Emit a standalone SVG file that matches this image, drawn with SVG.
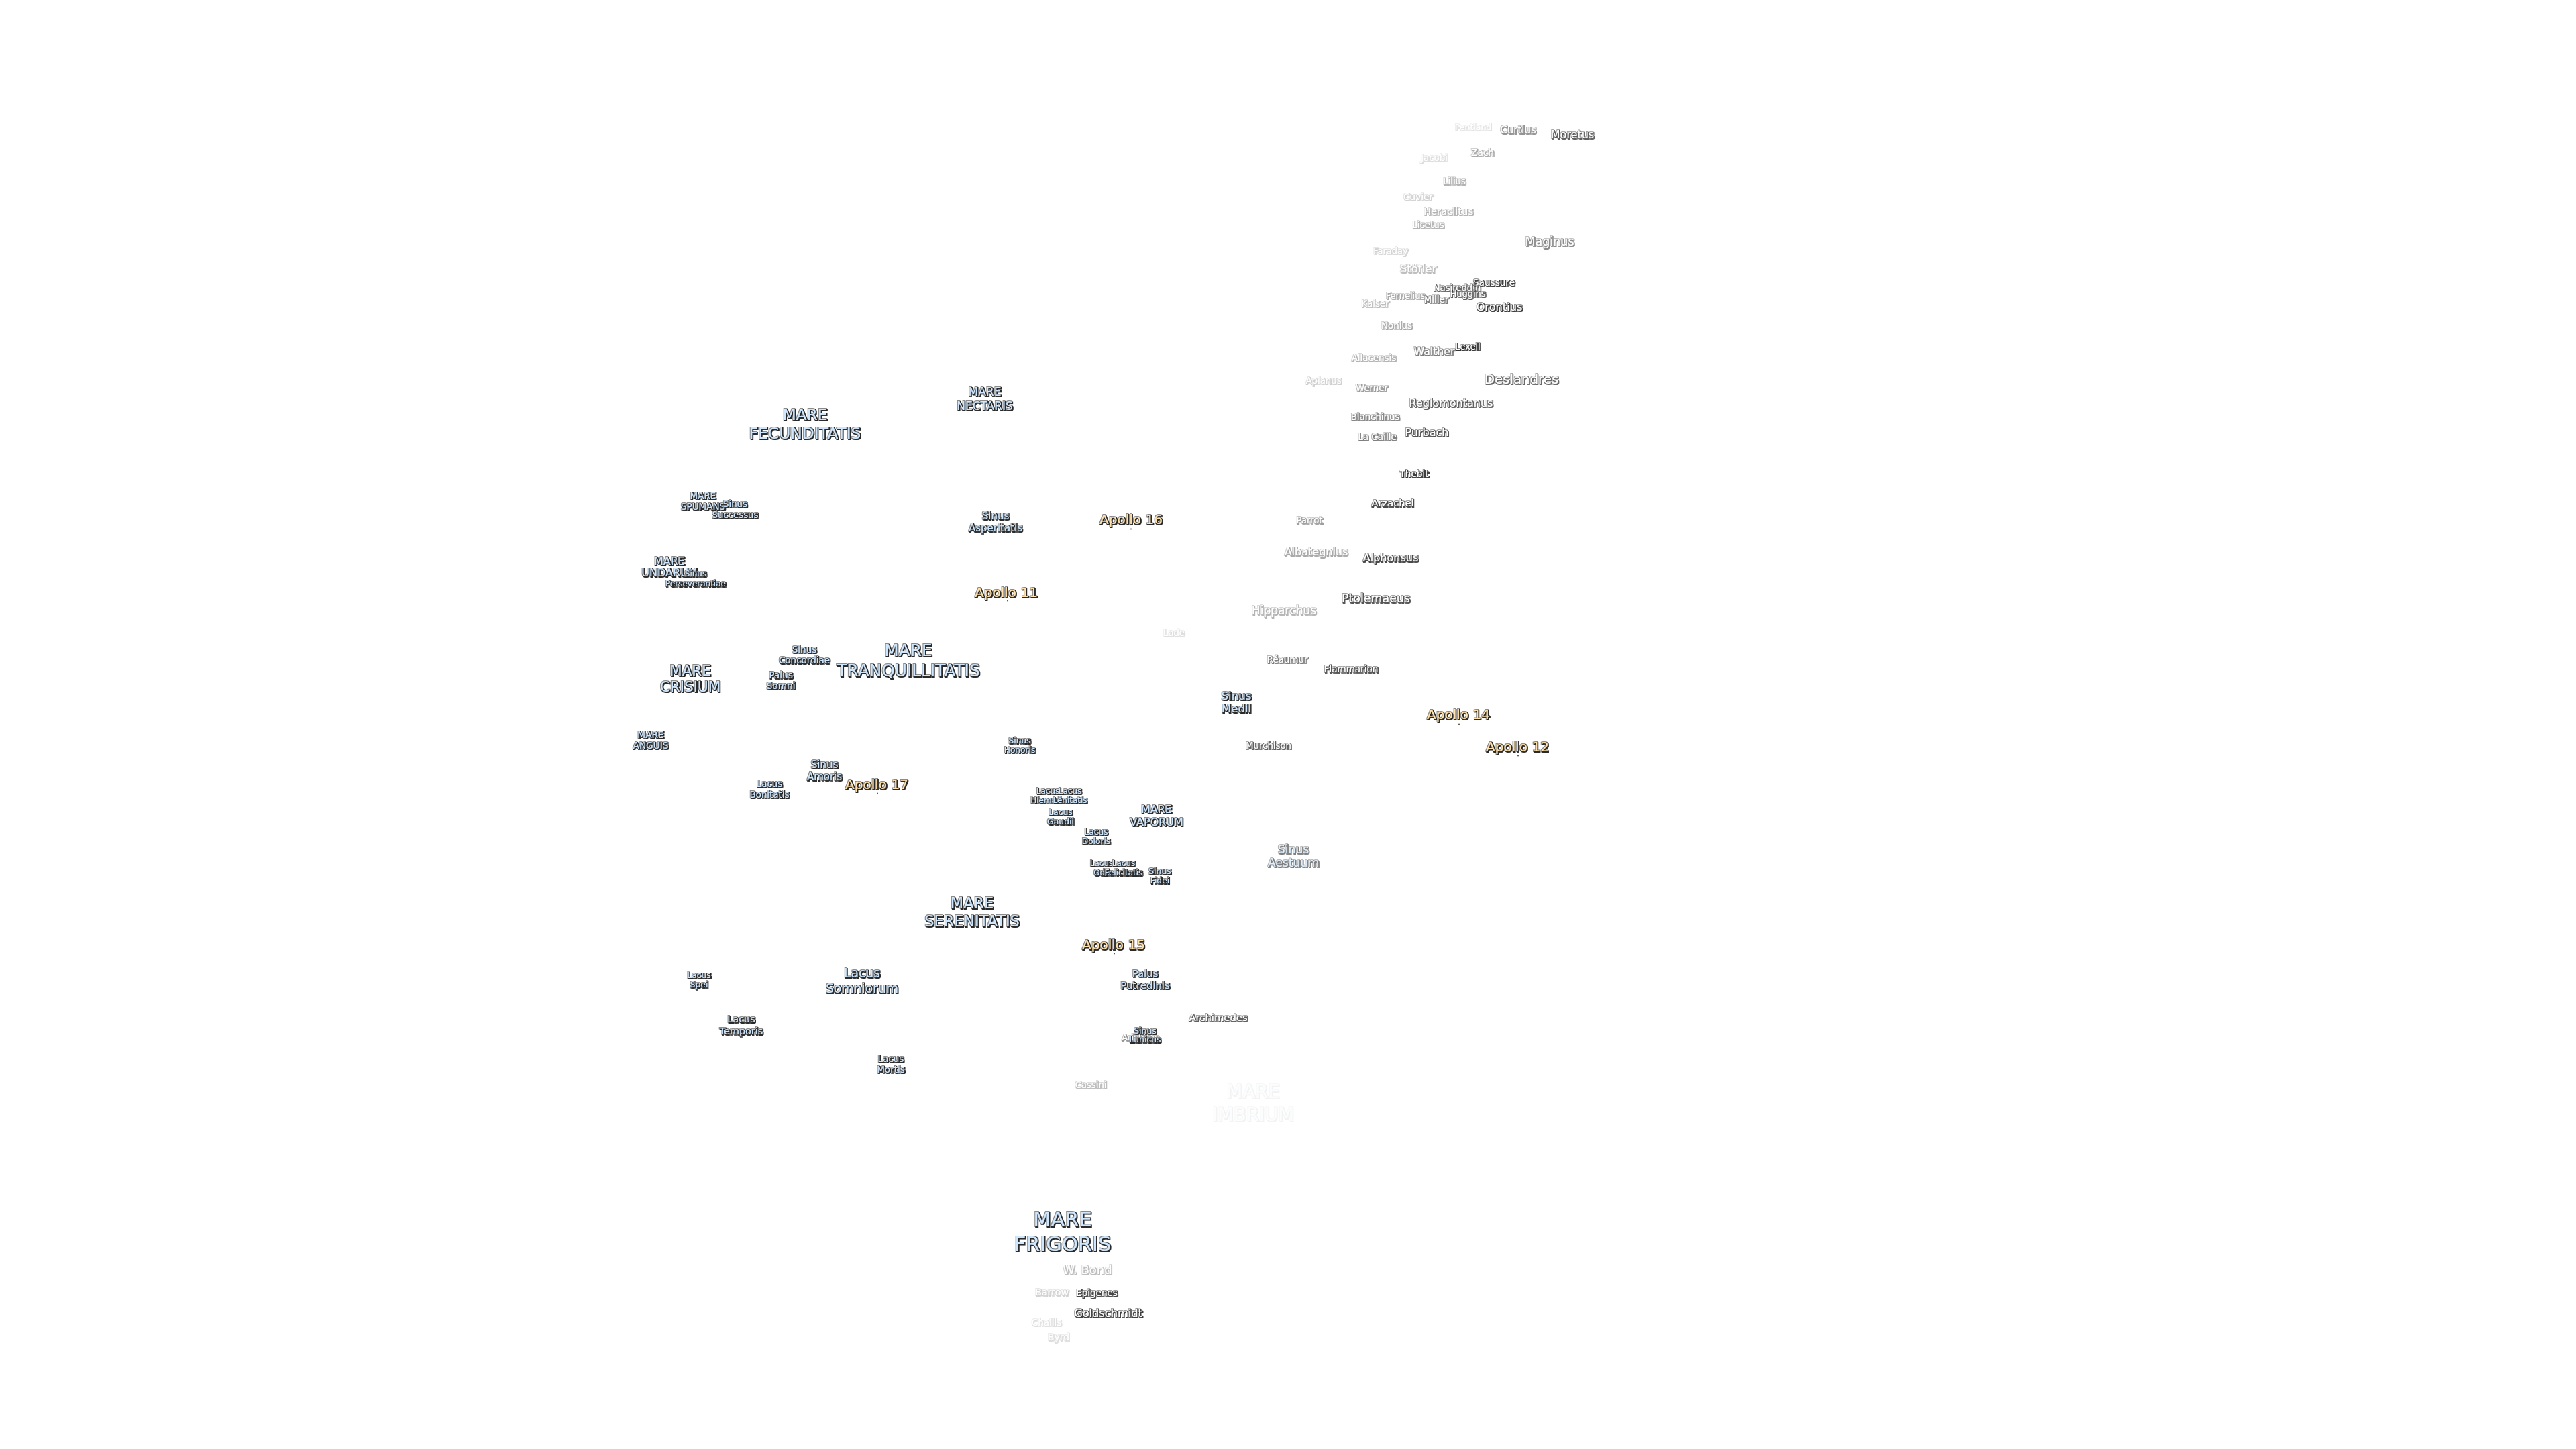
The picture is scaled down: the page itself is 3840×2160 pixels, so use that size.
<svg xmlns="http://www.w3.org/2000/svg" width="3840" height="2160" viewBox="0 0 3840 2160">
<style>
text{font-family:"DejaVu Sans","Liberation Sans",sans-serif;text-anchor:middle;filter:url(#halo)}
.m{fill:#cfe6fc}
.c{fill:#fff}
.a{fill:#ffe2ae}
.d{fill:#5a4a30}
</style>
<defs>
<filter id="halo" x="-15%" y="-25%" width="130%" height="150%">
<feMorphology in="SourceAlpha" operator="dilate" radius=".8" result="fat"/>
<feGaussianBlur in="fat" stdDeviation=".7" result="g"/>
<feFlood flood-color="#8a8a8a"/>
<feComposite in2="g" operator="in" result="glow"/>
<feGaussianBlur in="fat" stdDeviation=".5" result="b"/>
<feOffset in="b" dx="1.2" dy="1.3" result="o"/>
<feFlood flood-color="#2a2a2a"/>
<feComposite in2="o" operator="in" result="s"/>
<feGaussianBlur in="SourceGraphic" stdDeviation=".3" result="t"/>
<feMerge><feMergeNode in="glow"/><feMergeNode in="s"/><feMergeNode in="t"/></feMerge>
</filter>
</defs>
<g transform="translate(0,-1.5)">
<g id="craters">
<g opacity=".12"><text class="c" x="2196" y="195" font-size="12.5">Pentland</text></g>
<g opacity=".5"><text class="c" x="2263" y="200" font-size="15">Curtius</text></g>
<g opacity=".75"><text class="c" x="2344" y="207" font-size="16">Moretus</text></g>
<g opacity=".4"><text class="c" x="2210" y="233" font-size="13.7">Zach</text></g>
<g opacity=".15"><text class="c" x="2138" y="241" font-size="13.4">Jacobi</text></g>
<g opacity=".35"><text class="c" x="2168" y="276" font-size="13.2">Lilius</text></g>
<g opacity=".2"><text class="c" x="2114" y="299" font-size="13.7">Cuvier</text></g>
<g opacity=".35"><text class="c" x="2159" y="321" font-size="14.7">Heraclitus</text></g>
<g opacity=".35"><text class="c" x="2129" y="341" font-size="13.3">Licetus</text></g>
<g opacity=".55"><text class="c" x="2310" y="367" font-size="17.5">Maginus</text></g>
<g opacity=".2"><text class="c" x="2073" y="379" font-size="13">Faraday</text></g>
<g opacity=".3"><text class="c" x="2114" y="407" font-size="16.5">Stöfler</text></g>
<g opacity=".9"><text class="c" x="2227" y="427" font-size="13.6">Saussure</text></g>
<g opacity=".7"><text class="c" x="2172" y="435" font-size="13.2">Nasireddin</text></g>
<g opacity=".75"><text class="c" x="2188" y="443" font-size="13">Huggins</text></g>
<g opacity=".4"><text class="c" x="2095" y="446" font-size="13">Fernelius</text></g>
<g opacity=".6"><text class="c" x="2141" y="452" font-size="13.5">Miller</text></g>
<g opacity=".3"><text class="c" x="2050" y="458" font-size="13.3">Kaiser</text></g>
<g opacity=".9"><text class="c" x="2235" y="464" font-size="16.2">Orontius</text></g>
<g opacity=".4"><text class="c" x="2082" y="491" font-size="13.4">Nonius</text></g>
<g opacity=".95"><text class="c" x="2188" y="522" font-size="13">Lexell</text></g>
<g opacity=".6"><text class="c" x="2138" y="530" font-size="15.7">Walther</text></g>
<g opacity=".35"><text class="c" x="2048" y="539" font-size="13.4">Allacensis</text></g>
<g opacity=".22"><text class="c" x="1973" y="573" font-size="13.3">Aplanus</text></g>
<g opacity=".45"><text class="c" x="2045" y="584" font-size="13.3">Werner</text></g>
<g opacity=".7"><text class="c" x="2268" y="573" font-size="19.8">Deslandres</text></g>
<g opacity=".75"><text class="c" x="2163" y="607" font-size="16">Regiomontanus</text></g>
<g opacity=".55"><text class="c" x="2050" y="627" font-size="13.3">Blanchinus</text></g>
<g opacity=".8"><text class="c" x="2127" y="651" font-size="16">Purbach</text></g>
<g opacity=".6"><text class="c" x="2053" y="657" font-size="13.6">La Caille</text></g>
<g opacity=".9"><text class="c" x="2108" y="712" font-size="13.6">Thebit</text></g>
<g opacity=".85"><text class="c" x="2076" y="756" font-size="14.7">Arzachel</text></g>
<g opacity=".45"><text class="c" x="1952" y="781" font-size="13.2">Parrot</text></g>
<g opacity=".4"><text class="c" x="1962" y="829" font-size="16">Albategnius</text></g>
<g opacity=".85"><text class="c" x="2073" y="838" font-size="16">Alphonsus</text></g>
<g opacity=".8"><text class="c" x="2051" y="899" font-size="17.4">Ptolemaeus</text></g>
<g opacity=".35"><text class="c" x="1914" y="917" font-size="17.1">Hipparchus</text></g>
<g opacity=".15"><text class="c" x="1750" y="949" font-size="13.2">Lade</text></g>
<g opacity=".6"><text class="c" x="1919" y="989" font-size="13.5">Réaumur</text></g>
<g opacity=".8"><text class="c" x="2014" y="1003" font-size="13.5">Flammarion</text></g>
<g opacity=".75"><text class="c" x="1891" y="1117" font-size="13.3">Murchison</text></g>
<g opacity=".75"><text class="c" x="1816" y="1523" font-size="14.8">Archimedes</text></g>
<g opacity=".5"><text class="c" x="1700" y="1552" font-size="13">Aristillus</text></g>
<g opacity=".3"><text class="c" x="1626" y="1623" font-size="13.3">Cassini</text></g>
<g opacity=".3"><text class="c" x="1621" y="1900" font-size="18">W. Bond</text></g>
<g opacity=".2"><text class="c" x="1568" y="1932" font-size="14.3">Barrow</text></g>
<g opacity=".85"><text class="c" x="1635" y="1933" font-size="13.5">Epigenes</text></g>
<g opacity=".9"><text class="c" x="1652" y="1964" font-size="16.2">Goldschmidt</text></g>
<g opacity=".15"><text class="c" x="1560" y="1977" font-size="13.5">Challis</text></g>
<g opacity=".15"><text class="c" x="1578" y="1999" font-size="14">Byrd</text></g>
</g>
<g id="maria">
<text class="m" font-size="23.4"><tspan x="1200" y="627">MARE</tspan><tspan x="1200" y="655">FECUNDITATIS</tspan></text>
<text class="m" font-size="17"><tspan x="1468" y="591">MARE</tspan><tspan x="1468" y="612">NECTARIS</tspan></text>
<text class="m" font-size="13.5"><tspan x="1048" y="745">MARE</tspan><tspan x="1048" y="761">SPUMANS</tspan></text>
<text class="m" font-size="13.3"><tspan x="1096" y="757">Sinus</tspan><tspan x="1096" y="773">Successus</tspan></text>
<text class="m" font-size="15"><tspan x="1484" y="775">Sinus</tspan><tspan x="1484" y="793">Asperitatis</tspan></text>
<text class="m" font-size="16"><tspan x="998" y="843">MARE</tspan><tspan x="998" y="860">UNDARUM</tspan></text>
<text class="m" font-size="12"><tspan x="1037" y="860">Sinus</tspan><tspan x="1037" y="875">Perseverantiae</tspan></text>
<text class="m" font-size="21.5"><tspan x="1029" y="1008">MARE</tspan><tspan x="1029" y="1032">CRISIUM</tspan></text>
<text class="m" font-size="13.5"><tspan x="1199" y="974">Sinus</tspan><tspan x="1199" y="990">Concordiae</tspan></text>
<text class="m" font-size="13.7"><tspan x="1164" y="1012">Palus</tspan><tspan x="1164" y="1028">Somni</tspan></text>
<text class="m" font-size="24.8"><tspan x="1354" y="979">MARE</tspan><tspan x="1354" y="1009">TRANQUILLITATIS</tspan></text>
<text class="m" font-size="13.7"><tspan x="970" y="1101">MARE</tspan><tspan x="970" y="1117">ANGUIS</tspan></text>
<text class="m" font-size="15"><tspan x="1229" y="1146">Sinus</tspan><tspan x="1229" y="1164">Amoris</tspan></text>
<text class="m" font-size="13.4"><tspan x="1147" y="1174">Lacus</tspan><tspan x="1147" y="1190">Bonitatis</tspan></text>
<text class="m" font-size="12.2"><tspan x="1520" y="1109">Sinus</tspan><tspan x="1520" y="1123">Honoris</tspan></text>
<text class="m" font-size="12"><tspan x="1562" y="1184">Lacus</tspan><tspan x="1562" y="1198">Hiemalis</tspan></text>
<text class="m" font-size="12"><tspan x="1595" y="1184">Lacus</tspan><tspan x="1595" y="1198">Lenitatis</tspan></text>
<text class="m" font-size="12.4"><tspan x="1581" y="1216">Lacus</tspan><tspan x="1581" y="1230">Gaudii</tspan></text>
<text class="m" font-size="12.2"><tspan x="1634" y="1245">Lacus</tspan><tspan x="1634" y="1259">Doloris</tspan></text>
<text class="m" font-size="16"><tspan x="1724" y="1213">MARE</tspan><tspan x="1724" y="1232">VAPORUM</tspan></text>
<text class="m" font-size="12"><tspan x="1642" y="1292">Lacus</tspan><tspan x="1642" y="1306">Odii</tspan></text>
<text class="m" font-size="12"><tspan x="1675" y="1292">Lacus</tspan><tspan x="1675" y="1306">Felicitatis</tspan></text>
<text class="m" font-size="12.4"><tspan x="1729" y="1304">Sinus</tspan><tspan x="1729" y="1318">Fidei</tspan></text>
<text class="m" font-size="16.6"><tspan x="1843" y="1044">Sinus</tspan><tspan x="1843" y="1063">Medii</tspan></text>
<text class="m" font-size="17.3" opacity=".6"><tspan x="1928" y="1273">Sinus</tspan><tspan x="1928" y="1293">Aestuum</tspan></text>
<text class="m" font-size="22.4"><tspan x="1449" y="1355">MARE</tspan><tspan x="1449" y="1382">SERENITATIS</tspan></text>
<text class="m" font-size="18.8"><tspan x="1285" y="1458">Lacus</tspan><tspan x="1285" y="1481">Somniorum</tspan></text>
<text class="m" font-size="14.8"><tspan x="1707" y="1457">Palus</tspan><tspan x="1707" y="1475">Putredinis</tspan></text>
<text class="m" font-size="12.4"><tspan x="1042" y="1459">Lacus</tspan><tspan x="1042" y="1473">Spei</tspan></text>
<text class="m" font-size="14.4"><tspan x="1105" y="1525">Lacus</tspan><tspan x="1105" y="1543">Temporis</tspan></text>
<text class="m" font-size="13.5"><tspan x="1328" y="1584">Lacus</tspan><tspan x="1328" y="1600">Mortis</tspan></text>
<text class="m" font-size="12.4"><tspan x="1707" y="1542">Sinus</tspan><tspan x="1707" y="1555">Lunicus</tspan></text>
<text class="m" font-size="27.6" opacity=".05"><tspan x="1868" y="1638">MARE</tspan><tspan x="1868" y="1672">IMBRIUM</tspan></text>
<text class="m" font-size="30.4"><tspan x="1584" y="1829">MARE</tspan><tspan x="1584" y="1866">FRIGORIS</tspan></text>
</g>
<g id="apollo">
<g id="apollo-11"><text class="a" x="1500" y="891" font-size="20">Apollo 11</text><circle class="d" cx="1502" cy="897" r="1"/></g>
<g id="apollo-12"><text class="a" x="2262" y="1121" font-size="20">Apollo 12</text><circle class="d" cx="2263" cy="1128" r="1"/></g>
<g id="apollo-14"><text class="a" x="2174" y="1073" font-size="20">Apollo 14</text><circle class="d" cx="2175" cy="1081" r="1"/></g>
<g id="apollo-15"><text class="a" x="1660" y="1416" font-size="20">Apollo 15</text><circle class="d" cx="1661" cy="1423" r="1"/></g>
<g id="apollo-16"><text class="a" x="1686" y="782" font-size="20">Apollo 16</text><circle class="d" cx="1686" cy="790" r="1"/></g>
<g id="apollo-17"><text class="a" x="1307" y="1177" font-size="20">Apollo 17</text><circle class="d" cx="1308" cy="1184" r="1"/></g>
</g>
</g>
</svg>
